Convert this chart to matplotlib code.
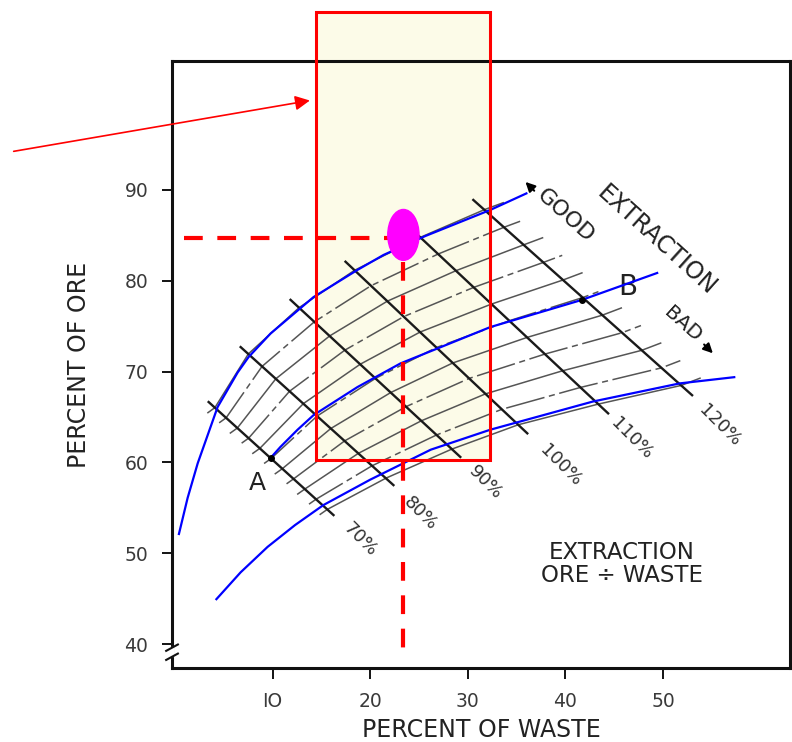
import matplotlib
matplotlib.use('Agg')
import matplotlib.pyplot as plt
from matplotlib.patches import Rectangle, Ellipse
import numpy as np

# axis ticks
waste_ticks = [10, 20, 30, 40, 50]
waste_tick_labels = ['IO', '20', '30', '40', '50']
ore_ticks = [40, 50, 60, 70, 80, 90]

# extraction lines (straight)
extraction_labels = ['70%', '80%', '90%', '100%', '110%', '120%']
ext_x0 = [3.45, 6.73, 11.84, 17.47, 24.12, 30.56]
ext_y0 = [66.65, 72.7, 77.9, 82.1, 85.8, 88.9]
ext_x1 = [16.24, 22.38, 29.23, 36.09, 44.37, 52.97]
ext_y1 = [54.2, 57.5, 60.6, 63.2, 65.4, 67.4]
ext_label_x = [19.0, 25.1, 31.8, 39.5, 46.8, 55.8]
ext_label_y = [51.45, 54.4, 57.8, 59.7, 62.6, 64.0]

# where the grey ore curves begin and end (stubs past 70% and 120%)
ore_begin_x = [2.74, 15.52]
ore_begin_y = [66.1, 53.66]
ore_finish_x = [32.5, 54.9]
ore_finish_y = [89.67, 68.2]
ore_fracs = [0.05, 0.14, 0.23, 0.32, 0.41, 0.50, 0.59, 0.68, 0.77, 0.86, 0.95]

# hand drawn blue curves
blue_top_x = [0.38, 1.3, 2.33, 4.37, 6.42, 7.54, 9.8, 14.19, 18.7, 21.36, 25.65, 32.3, 36.1]
blue_top_y = [52.0, 56.1, 59.9, 66.1, 69.9, 71.6, 74.2, 78.2, 81.2, 82.84, 84.93, 87.8, 89.67]
blue_mid_x = [9.8, 10.8, 12.56, 14.19, 18.7, 23.1, 32.3, 41.7, 49.5]
blue_mid_y = [60.5, 61.7, 63.6, 65.2, 68.3, 70.9, 74.9, 77.9, 80.9]
blue_low_x = [4.17, 6.73, 9.49, 12.3, 15.2, 20.0, 26.2, 32.3, 42.8, 51.7, 57.4]
blue_low_y = [44.85, 47.9, 50.7, 53.1, 55.3, 58.1, 61.4, 63.6, 66.7, 68.7, 69.4]

# points A and B
ab_x = [9.8, 41.7]
ab_y = [60.5, 77.9]

# highlight
box_x = [14.4, 32.3]
box_y = [60.26, 109.6]
pick_x = 23.4
pick_y = 85.05

plt.rcParams['font.family'] = 'DejaVu Sans'
fig = plt.figure(figsize=(7.92, 7.42), dpi=100)
ax = fig.add_axes([0.2172, 0.0997, 0.7803, 0.8181])
ax.set_xlim(-0.3, 63.0)
ax.set_ylim(37.36, 104.2)

for s in ax.spines.values():
    s.set_linewidth(2.2)
    s.set_color('#111111')

ax.set_xticks(waste_ticks)
ax.set_xticklabels(waste_tick_labels)
ax.set_yticks(ore_ticks)
ax.tick_params(axis='x', length=8, width=1.3, pad=9, labelsize=13.5, labelcolor='#3a3a3a')
ax.tick_params(axis='y', length=7, width=1.3, pad=10, labelsize=13.5, labelcolor='#3a3a3a')
ax.set_xlabel('PERCENT OF WASTE', fontsize=17, labelpad=5, color='#222222')
ax.set_ylabel('PERCENT OF ORE', fontsize=17, labelpad=24, color='#222222')

# yellow box fill (behind the grid)
ax.add_patch(Rectangle((box_x[0], box_y[0]), box_x[1] - box_x[0], box_y[1] - box_y[0],
                       facecolor='#fcfbe8', edgecolor='none', zorder=0.5, clip_on=False))

# grey ore curves
bx = np.array([ore_begin_x[0]] + ext_x0 + [ore_finish_x[0]])
by = np.array([ore_begin_y[0]] + ext_y0 + [ore_finish_y[0]])
ex = np.array([ore_begin_x[1]] + ext_x1 + [ore_finish_x[1]])
ey = np.array([ore_begin_y[1]] + ext_y1 + [ore_finish_y[1]])
for i, f in enumerate(ore_fracs):
    cx = bx + (ex - bx) * f
    cy = by + (ey - by) * f
    ls = '-' if i % 2 == 0 else (0, (26, 3, 4, 3))
    ax.plot(cx, cy, color='#555555', lw=1.1, ls=ls, zorder=2)

# extraction lines
for i in range(len(ext_x0)):
    ax.plot([ext_x0[i], ext_x1[i]], [ext_y0[i], ext_y1[i]], color='#1a1a1a', lw=1.7, zorder=3)
    ax.text(ext_label_x[i], ext_label_y[i], extraction_labels[i], rotation=-45,
            ha='center', va='center', fontsize=13, color='#333333')

# blue curves
for xs, ys in [(blue_top_x, blue_top_y), (blue_mid_x, blue_mid_y), (blue_low_x, blue_low_y)]:
    ax.plot(xs, ys, color='#0000ff', lw=1.6, zorder=4, solid_capstyle='butt')

ax.plot(ab_x, ab_y, 'o', color='black', ms=4, zorder=5)
ax.text(8.47, 57.7, 'A', fontsize=18, ha='center', va='center', color='#222222')
ax.text(46.4, 79.3, 'B', fontsize=20, ha='center', va='center', color='#222222')

# extraction direction text
ax.text(49.3, 84.4, 'EXTRACTION', rotation=-42, fontsize=17, ha='center', va='center', color='#222222')
ax.text(40.0, 87.2, 'GOOD', rotation=-42, fontsize=16, ha='center', va='center', color='#222222')
ax.text(52.0, 75.2, 'BAD', rotation=-42, fontsize=14.5, ha='center', va='center', color='#222222')
ax.annotate('', xy=(35.7, 91.1), xytext=(37.0, 89.7),
            arrowprops=dict(arrowstyle='-|>', color='black', lw=1.5, mutation_scale=14))
ax.annotate('', xy=(55.3, 71.8), xytext=(54.0, 73.2),
            arrowprops=dict(arrowstyle='-|>', color='black', lw=1.5, mutation_scale=14))

ax.text(45.8, 50.1, 'EXTRACTION', fontsize=16.5, ha='center', va='center', color='#222222')
ax.text(45.8, 47.6, 'ORE \u00f7 WASTE', fontsize=16.5, ha='center', va='center', color='#222222')

# red box outline, dashed guides, magenta pick
ax.add_patch(Rectangle((box_x[0], box_y[0]), box_x[1] - box_x[0], box_y[1] - box_y[0],
                       facecolor='none', edgecolor='red', lw=2.2, zorder=6, clip_on=False))
ax.plot([0.9, pick_x], [pick_y - 0.35, pick_y - 0.35], color='red', lw=3,
        dashes=(4.5, 3.5), zorder=6, solid_capstyle='butt')
ax.plot([pick_x, pick_x], [pick_y - 3, 39.3], color='red', lw=3,
        dashes=(4.5, 3.5), zorder=6)
ax.add_patch(Ellipse((pick_x, pick_y), 3.2, 5.6, color='#ff00ff', zorder=7))

ax.annotate('', xy=(14.1, 99.9), xytext=(-16.8, 94.2), xycoords='data',
            annotation_clip=False,
            arrowprops=dict(arrowstyle='-|>', color='red', lw=1.2, mutation_scale=22))

# axis break on the y axis
for yb in [39.6, 38.6]:
    ax.plot([-0.9, 0.3], [yb - 0.35, yb + 0.35], color='#111111', lw=1.5, clip_on=False, zorder=8)
ax.plot([-0.3, -0.3], [38.75, 39.45], color='white', lw=3, clip_on=False, zorder=7)

fig.savefig('out.png', dpi=100)
